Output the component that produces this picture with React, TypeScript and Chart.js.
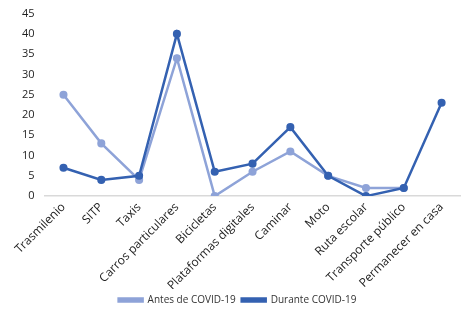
import React, { useEffect, useRef } from "react";
import { Chart, registerables } from "chart.js";

Chart.register(...registerables);

const categories = [
  "Trasmilenio",
  "SITP",
  "Taxis",
  "Carros particulares",
  "Bicicletas",
  "Plataformas digitales",
  "Caminar",
  "Moto",
  "Ruta escolar",
  "Transporte público",
  "Permanecer en casa",
];
const antes = [25, 13, 4, 34, 0, 6, 11, 5, 2, 2, null];
const durante = [7, 4, 5, 40, 6, 8, 17, 5, 0, 2, 23];
const yTicks = { min: 0, max: 45, step: 5 };

const LIGHT = "#8EA3D8";
const DARK = "#3461B1";
const FONT = "'Open Sans', 'Noto Sans', sans-serif";

export default function App() {
  const ref = useRef<HTMLCanvasElement | null>(null);
  useEffect(() => {
    if (!ref.current) return;
    const chart = new Chart(ref.current, {
      type: "line",
      data: {
        labels: categories,
        datasets: [
          {
            label: "Durante COVID-19",
            data: durante,
            borderColor: DARK,
            backgroundColor: DARK,
            borderWidth: 2.5,
            pointRadius: 2.8,
            pointBackgroundColor: DARK,
            pointBorderColor: DARK,
            tension: 0,
          },
          {
            label: "Antes de COVID-19",
            data: antes,
            borderColor: LIGHT,
            backgroundColor: LIGHT,
            borderWidth: 2.5,
            pointRadius: 2.8,
            pointBackgroundColor: LIGHT,
            pointBorderColor: LIGHT,
            tension: 0,
          },
        ],
      },
      options: {
        animation: false,
        responsive: false,
        maintainAspectRatio: false,
        layout: { padding: { left: 12, right: 4, top: 0, bottom: 1 } },
        plugins: {
          tooltip: { enabled: false },
          legend: {
            position: "bottom",
            reverse: true,
            labels: {
              font: { family: FONT, size: 10 },
              color: "#333",
              boxWidth: 24,
              boxHeight: 3,
              padding: 6,
            },
          },
        },
        scales: {
          x: {
            offset: true,
            grid: { display: false, drawTicks: false },
            border: { display: true, color: "#D9D9D9", width: 1.5 },
            ticks: {
              autoSkip: false,
              maxRotation: 45,
              minRotation: 45,
              color: "#222",
              font: { family: FONT, size: 12 },
              padding: 4,
            },
            afterFit: (scale: any) => {
              scale.height -= 8;
            },
          },
          y: {
            min: yTicks.min,
            max: yTicks.max,
            grid: { display: false, drawTicks: false },
            border: { display: false },
            ticks: {
              stepSize: yTicks.step,
              color: "#222",
              font: { family: FONT, size: 11 },
              padding: 10,
            },
            afterFit: (scale: any) => {
              scale.paddingTop = Math.max(0, scale.paddingTop - 3);
            },
          },
        },
      },
    });
    return () => chart.destroy();
  }, []);
  return (
    <div style={{ position: "fixed", left: 0, top: 0, width: 467, height: 316, background: "#fff" }}>
      <canvas ref={ref} width={467} height={316} style={{ width: 467, height: 316 }} />
    </div>
  );
}
